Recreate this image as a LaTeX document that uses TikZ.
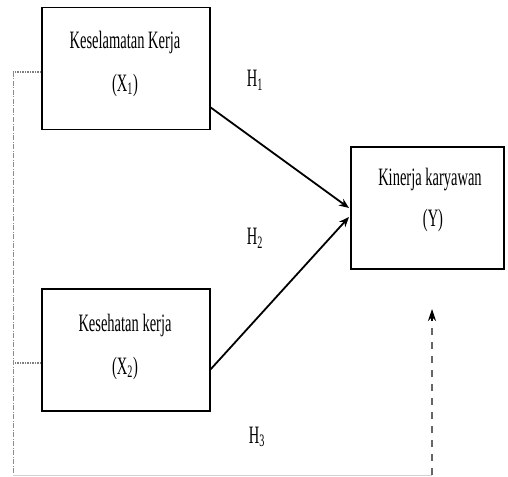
\documentclass[tikz,border=0pt]{standalone}
\usepackage{fontspec}
\setmainfont[FakeStretch=0.58]{Liberation Serif}
\usetikzlibrary{arrows.meta}
\begin{document}
\begin{tikzpicture}[x=1pt,y=-1pt,
  box/.style={draw,line width=1.3pt,minimum width=168pt,minimum height=122pt,inner sep=0pt},
  lbl/.style={font=\fontsize{25}{30}\selectfont,inner sep=0pt},
  solidarrow/.style={line width=1.8pt,-{Stealth[length=10pt,width=8pt]}},
  stub/.style={draw=gray,line width=1.8pt,dash pattern=on 1.5pt off 1pt},
  leftline/.style={draw=gray!90,line width=1pt,dash pattern=on 5pt off 1.5pt on 1pt off 1.5pt},
  upline/.style={draw=gray!80!black,line width=1.6pt,dash pattern=on 7pt off 7pt},
]
\useasboundingbox (0,0) rectangle (508,476);
% boxes
\node[box] (x1) at (126,68.5) {};
\node[box] (x2) at (126,350) {};
\node[box,minimum width=153pt] (y) at (427.5,208) {};
% texts
\node[lbl] (t1) at (125,42) {Keselamatan Kerja};
\node[lbl] (t1b) at (125,85) {(X\textsubscript{1})};
\node[lbl] (t2) at (125,325) {Kesehatan kerja};
\node[lbl] (t2b) at (125,368) {(X\textsubscript{2})};
\node[lbl] (t3) at (430,180) {Kinerja karyawan};
\node[lbl] (t3b) at (433,220) {(Y)};
\node[lbl] (h1) at (255,80) {H\textsubscript{1}};
\node[lbl] (h2) at (255,238) {H\textsubscript{2}};
\node[lbl] (h3) at (257,437) {H\textsubscript{3}};
% solid arrows
\coordinate (a1s) at (210,107);
\coordinate (a1e) at (349,208);
\coordinate (a2s) at (210,370);
\coordinate (a2e) at (349,217);
\draw[solidarrow] (a1s) -- (a1e);
\draw[solidarrow] (a2s) -- (a2e);
% left dashed connector
\coordinate (l1) at (13,72);
\coordinate (l2) at (13,363);
\coordinate (lb) at (13,475);
\coordinate (rb) at (432,475);
\coordinate (tip) at (432,309);
\draw[stub] (x1.west |- l1) -- (l1);
\draw[stub] (x2.west |- l2) -- (l2);
\draw[leftline] (l1) -- (lb);
\draw[draw=gray!35,line width=0.8pt] (lb) -- (rb);
\draw[upline] (rb) -- ([yshift=-12pt]tip);
\draw[-{Stealth[length=12pt,width=8pt]},line width=1.6pt] ([yshift=-12pt]tip) -- (tip);
\end{tikzpicture}
\end{document}
